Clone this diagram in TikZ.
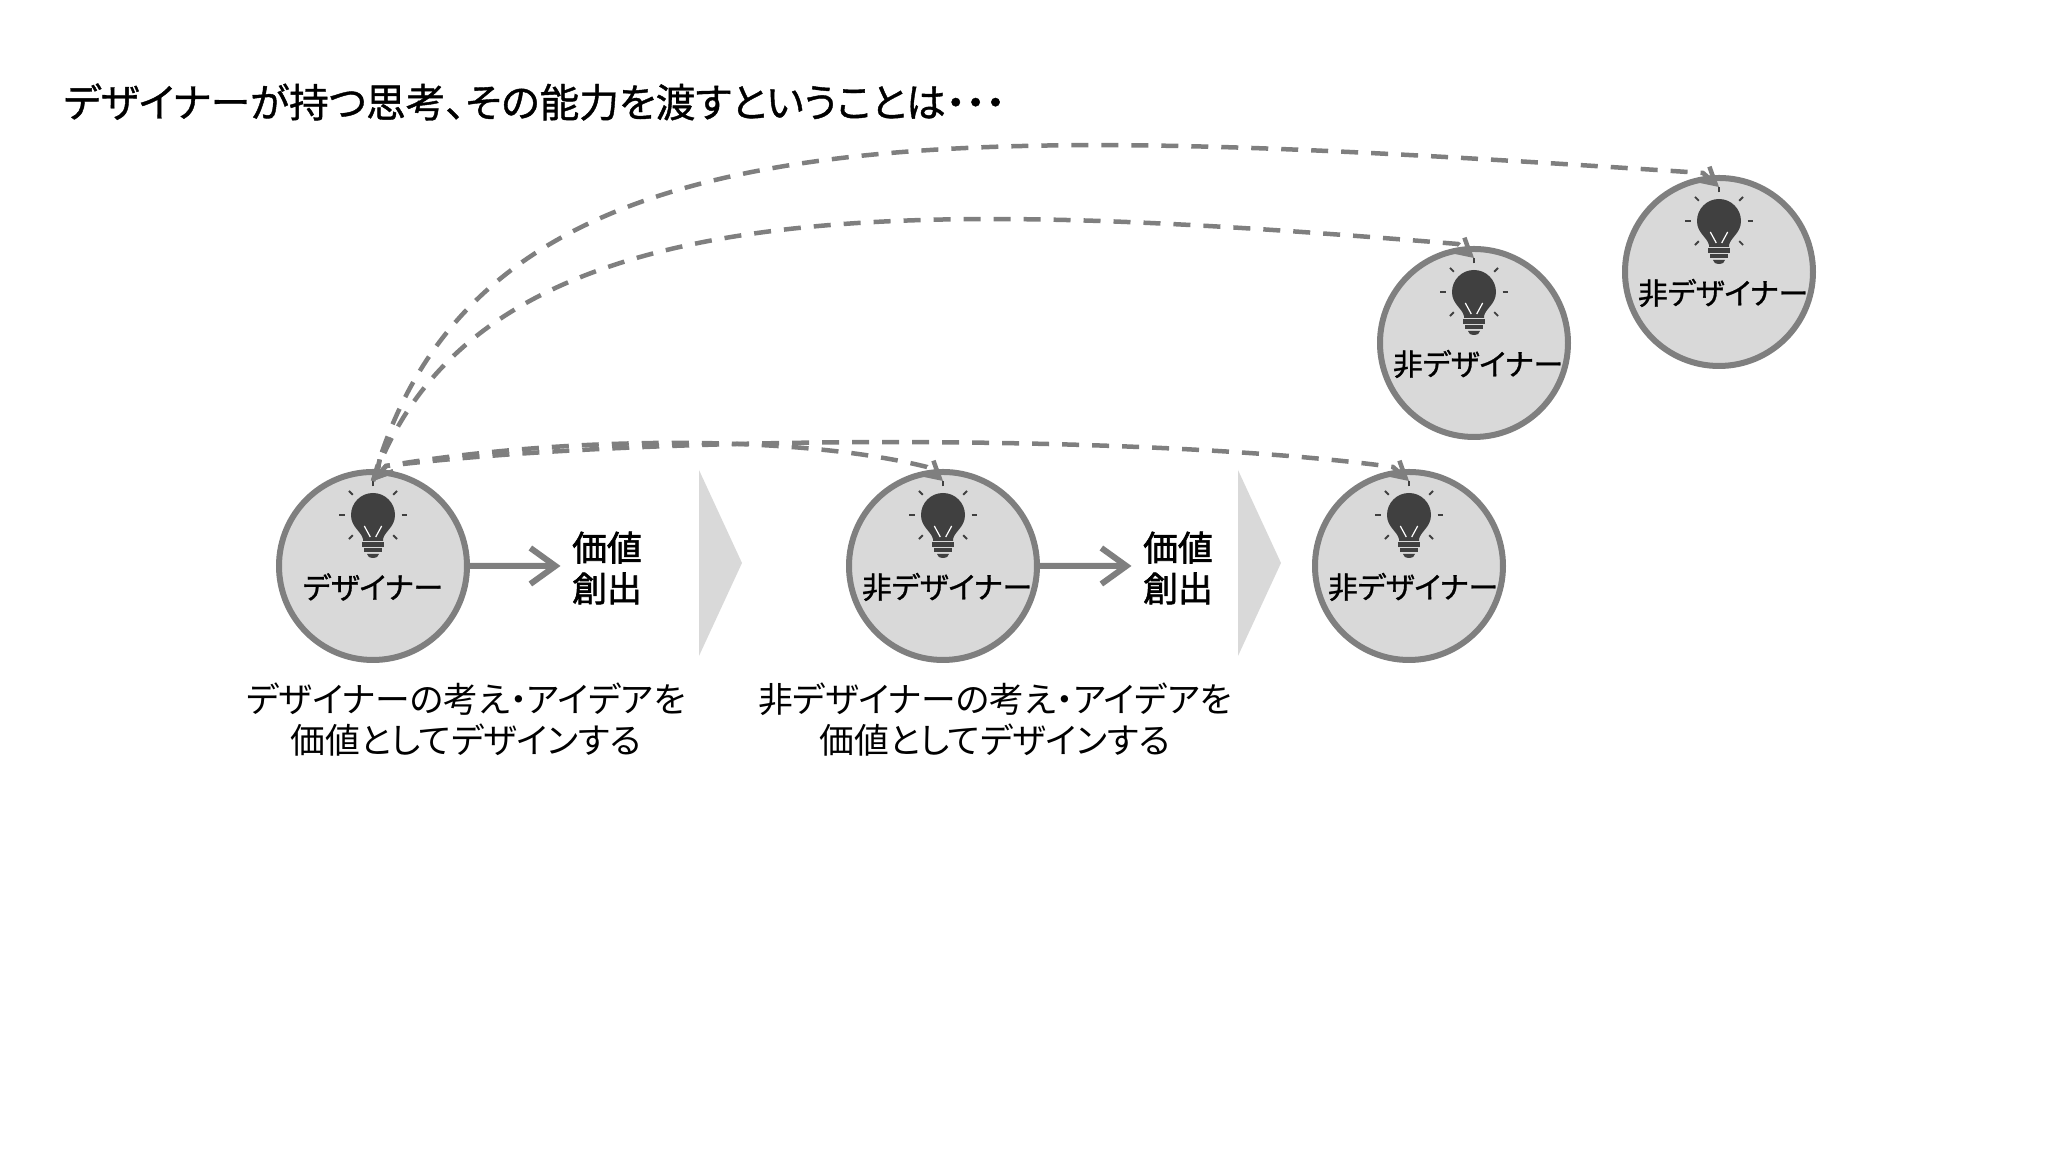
\documentclass[tikz,border=0pt]{standalone}
\usepackage{fontspec}
\usepackage{xcolor}
\usetikzlibrary{arrows.meta}
\setmainfont{Noto Sans CJK JP}[RawFeature={+palt}]
\newfontfamily\midfont{Noto Sans CJK JP}[RawFeature={+palt},FakeBold=1]
\newfontfamily\heavyfont{Noto Sans CJK JP}[RawFeature={+palt},FakeBold=1.8]
\definecolor{ringgray}{HTML}{7F7F7F}
\definecolor{fillgray}{HTML}{D9D9D9}
\definecolor{bulbgray}{HTML}{404040}
\tikzset{
	person/.style={circle,draw=ringgray,fill=fillgray,line width=0.06cm,minimum size=1.88cm,inner sep=0pt,outer sep=0pt},
	personlabel/.style={font=\fontsize{8.5}{10}\midfont,inner sep=0pt},
	valuelabel/.style={font=\fontsize{9.9}{11.6}\heavyfont,align=center,inner sep=0pt},
	caption/.style={font=\fontsize{9.9}{11.7}\selectfont,align=center,inner sep=0pt},
	passing/.style={draw=ringgray,line width=0.045cm,dash pattern=on 0.17cm off 0.13cm,-{Straight Barb[length=0.16cm,width=0.18cm]}},
	bothends/.style={{Straight Barb[length=0.16cm,width=0.18cm]}-{Straight Barb[length=0.16cm,width=0.18cm]}},
	valuearrow/.style={draw=ringgray,line width=0.06cm,-{Straight Barb[length=0.25cm,width=0.36cm]}},
	pics/bulb/.style={code={
		\fill[bulbgray] (-0.1,-0.26) -- (-0.1,-0.24) .. controls (-0.12,-0.16) and (-0.22,-0.12) .. (-0.22,0) arc (180:0:0.22) .. controls (0.22,-0.12) and (0.12,-0.16) .. (0.1,-0.24) -- (0.1,-0.26) -- cycle;
		\draw[white,line width=0.012cm] (-0.087,-0.11) -- (-0.027,-0.22) (0.087,-0.11) -- (0.027,-0.22);
		\fill[bulbgray] (-0.11,-0.27) rectangle (0.11,-0.32);
		\fill[bulbgray] (-0.09,-0.335) rectangle (0.09,-0.37);
		\fill[bulbgray] (-0.06,-0.39) -- (0.06,-0.39) arc (0:-180:0.06 and 0.04) -- cycle;
		\foreach \ang in {0,45,90,135,180,-45,-135}
			\draw[bulbgray,line width=0.018cm] (\ang:0.285) -- (\ang:0.34);
	}},
}
\begin{document}
\begin{tikzpicture}
	\useasboundingbox (0,0) rectangle (20.48,11.52);
	% people
	\node[person] (d1) at (3.73,5.86) {};
	\node[person] (n1) at (9.43,5.86) {};
	\node[person] (n2) at (14.09,5.86) {};
	\node[person] (t1) at (14.74,8.09) {};
	\node[person] (t2) at (17.19,8.80) {};
	% bulbs
	\foreach \who in {d1,n1,n2,t1,t2}
		\pic at ([yshift=0.51cm]\who) {bulb};
	% labels in the circles
	\node[personlabel] (d1text) at ([yshift=-0.21cm]d1) {デザイナー};
	\node[personlabel] (n1text) at ([xshift=0.04cm,yshift=-0.21cm]n1) {非デザイナー};
	\node[personlabel] (n2text) at ([xshift=0.04cm,yshift=-0.21cm]n2) {非デザイナー};
	\node[personlabel] (t1text) at ([xshift=0.04cm,yshift=-0.21cm]t1) {非デザイナー};
	\node[personlabel] (t2text) at ([xshift=0.04cm,yshift=-0.21cm]t2) {非デザイナー};
	% value
	\node[valuelabel] (val1) at (6.07,5.84) {価値\\創出};
	\node[valuelabel] (val2) at (11.78,5.84) {価値\\創出};
	\draw[valuearrow] (d1.east) -- ([xshift=-0.11cm,yshift=0.02cm]val1.west);
	\draw[valuearrow] (n1.east) -- ([xshift=-0.11cm,yshift=0.02cm]val2.west);
	% steps
	\fill[fillgray] (6.99,6.82) -- (7.42,5.89) -- (6.99,4.96) -- cycle;
	\fill[fillgray] (12.38,6.82) -- (12.81,5.89) -- (12.38,4.96) -- cycle;
	% captions
	\node[caption] (cap1) at (4.66,4.32) {デザイナーの考え・アイデアを\\価値としてデザインする};
	\node[caption] (cap2) at (9.95,4.32) {非デザイナーの考え・アイデアを\\価値としてデザインする};
	% title
	\node[anchor=west,font=\fontsize{11.3}{13}\midfont,inner sep=0pt] (title) at (0.63,10.5) {デザイナーが持つ思考、その能力を渡すということは・・・};
	% passing on
	\coordinate (d1in) at ([yshift=-0.09cm]d1.north);
	\coordinate (d1by) at ([shift={(0.13,0.15)}]d1in);
	\foreach \who in {n1,n2,t1,t2}{
		\coordinate (\who in) at ([yshift=-0.09cm]\who.north);
		\coordinate (\who by) at ([shift={(-0.16,0.14)}]\who in);
	}
	\draw[passing] (d1in) .. controls (4.8,10.56) and (9.5,10.28) .. (t2by) -- (t2in);
	\draw[passing] (d1in) .. controls (4.8,9.71) and (9.2,9.52) .. (t1by) -- (t1in);
	\draw[passing,bothends] (d1in) -- (d1by) .. controls (5.7,7.17) and (8,7.17) .. (n1by) -- (n1in);
	\draw[passing,bothends] (d1in) -- (d1by) .. controls (6.5,7.18) and (11.5,7.18) .. (n2by) -- (n2in);
\end{tikzpicture}
\end{document}
